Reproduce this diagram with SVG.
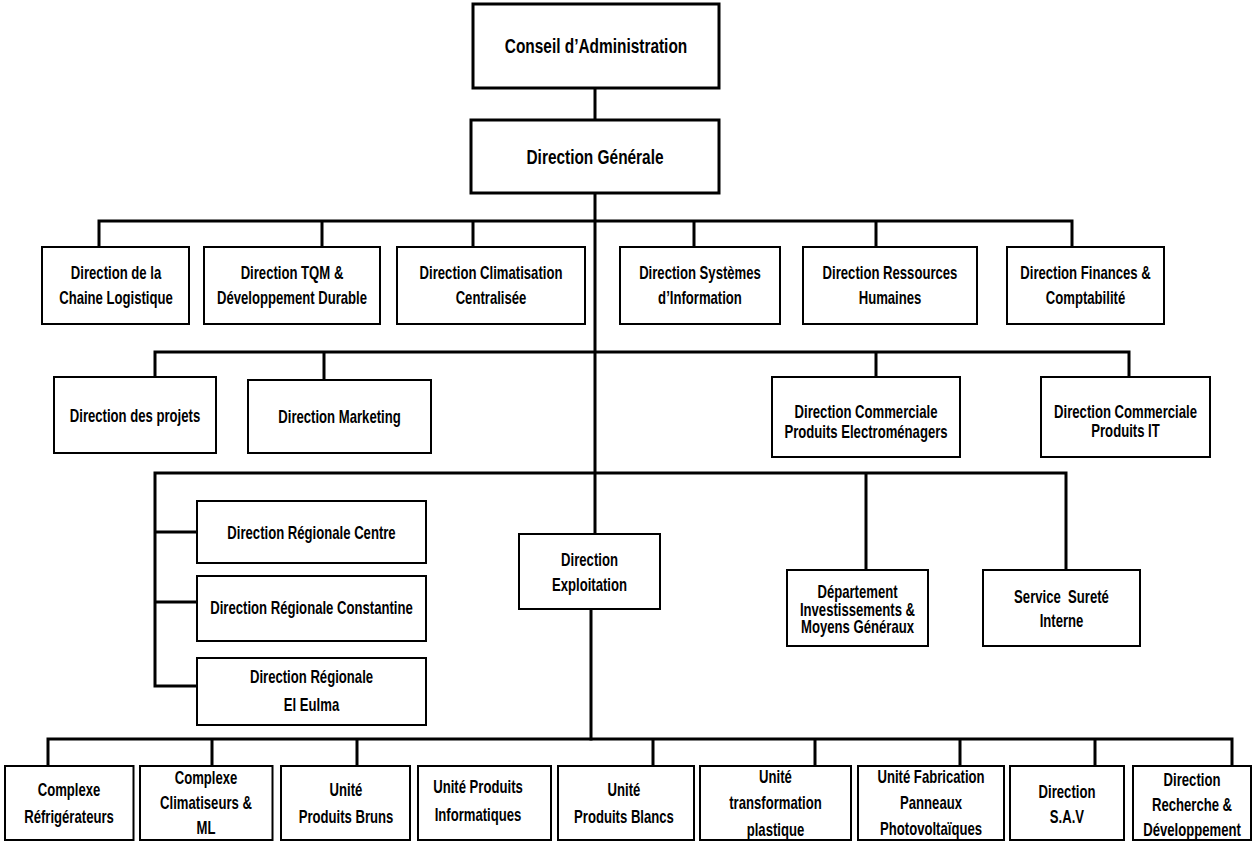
<svg xmlns="http://www.w3.org/2000/svg" width="1259" height="843" viewBox="0 0 1259 843">
<style>
.b{fill:#fff;stroke:#000;stroke-width:2}
.bt{fill:#fff;stroke:#000;stroke-width:3}
.c{fill:none;stroke:#000;stroke-width:3;stroke-linecap:square}
.t{font-family:"Liberation Sans",Arial,sans-serif;font-weight:bold;font-size:17.5px;text-anchor:middle;fill:#000}
.h{font-size:21px}
</style>
<rect width="1259" height="843" fill="#fff"/>
<g id="connectors">
<path class="c" d="M595 88V120M595 193V534M591 609V739"/>
<path class="c" d="M99 247V221H1072V247M322 221V247M473 221V247M694 221V247M876 221V247"/>
<path class="c" d="M155 377V352H1129V377M324 352V380M876 352V377"/>
<path class="c" d="M155 686V473H1066V570M866 473V570M155 532H197M155 602H197M155 686H197"/>
<path class="c" d="M48 766V739H1232V766M212 739V766M357 739V766M653 739V766M815 739V766M960 739V766M1095 739V766"/>
</g>
<g id="conseil"><rect class="bt" x="473" y="4" width="246" height="84"/><text class="t h" transform="translate(596,0) scale(.735,1)"><tspan x="0" y="53">Conseil d’Administration</tspan></text></g>
<g id="dg"><rect class="bt" x="471" y="120" width="248" height="73"/><text class="t h" transform="translate(595,0) scale(.735,1)"><tspan x="0" y="164">Direction Générale</tspan></text></g>

<g id="logistique"><rect class="b" x="42" y="247" width="147" height="77"/><text class="t" transform="translate(116,0) scale(.75,1)"><tspan x="0" y="279.5">Direction de la</tspan><tspan x="0" y="304.5">Chaine Logistique</tspan></text></g>
<g id="tqm"><rect class="b" x="204" y="247" width="176" height="77"/><text class="t" transform="translate(292,0) scale(.75,1)"><tspan x="0" y="279.5">Direction TQM &amp;</tspan><tspan x="0" y="304.5">Développement Durable</tspan></text></g>
<g id="clim"><rect class="b" x="397" y="247" width="188" height="77"/><text class="t" transform="translate(491,0) scale(.75,1)"><tspan x="0" y="279.5">Direction Climatisation</tspan><tspan x="0" y="304.5">Centralisée</tspan></text></g>
<g id="si"><rect class="b" x="620" y="247" width="160" height="77"/><text class="t" transform="translate(700,0) scale(.75,1)"><tspan x="0" y="279.5">Direction Systèmes</tspan><tspan x="0" y="304.5">d’Information</tspan></text></g>
<g id="rh"><rect class="b" x="803" y="247" width="174" height="77"/><text class="t" transform="translate(890,0) scale(.75,1)"><tspan x="0" y="279.5">Direction Ressources</tspan><tspan x="0" y="304.5">Humaines</tspan></text></g>
<g id="finances"><rect class="b" x="1007" y="247" width="157" height="77"/><text class="t" transform="translate(1085.5,0) scale(.75,1)"><tspan x="0" y="279.5">Direction Finances &amp;</tspan><tspan x="0" y="304.5">Comptabilité</tspan></text></g>

<g id="projets"><rect class="b" x="54" y="377" width="162" height="76"/><text class="t" transform="translate(135,0) scale(.75,1)"><tspan x="0" y="422.5">Direction des projets</tspan></text></g>
<g id="marketing"><rect class="b" x="248" y="380" width="183" height="73"/><text class="t" transform="translate(339.5,0) scale(.75,1)"><tspan x="0" y="423.5">Direction Marketing</tspan></text></g>
<g id="com-electro"><rect class="b" x="772" y="377" width="188" height="80"/><text class="t" transform="translate(866,0) scale(.75,1)"><tspan x="0" y="418">Direction Commerciale</tspan><tspan x="0" y="438">Produits Electroménagers</tspan></text></g>
<g id="com-it"><rect class="b" x="1041" y="377" width="169" height="80"/><text class="t" transform="translate(1125.5,0) scale(.75,1)"><tspan x="0" y="418">Direction Commerciale</tspan><tspan x="0" y="437">Produits IT</tspan></text></g>

<g id="reg-centre"><rect class="b" x="197" y="501" width="229" height="62"/><text class="t" transform="translate(311.5,0) scale(.75,1)"><tspan x="0" y="539">Direction Régionale Centre</tspan></text></g>
<g id="reg-constantine"><rect class="b" x="197" y="576" width="229" height="65"/><text class="t" transform="translate(311.5,0) scale(.75,1)"><tspan x="0" y="614.5">Direction Régionale Constantine</tspan></text></g>
<g id="reg-eulma"><rect class="b" x="197" y="658" width="229" height="67"/><text class="t" transform="translate(311.5,0) scale(.75,1)"><tspan x="0" y="683.5">Direction Régionale</tspan><tspan x="0" y="711.5">El Eulma</tspan></text></g>
<g id="exploitation"><rect class="b" x="519" y="534" width="141" height="75"/><text class="t" transform="translate(589.5,0) scale(.75,1)"><tspan x="0" y="566.5">Direction</tspan><tspan x="0" y="591.5">Exploitation</tspan></text></g>
<g id="investissements"><rect class="b" x="787" y="570" width="141" height="76"/><text class="t" transform="translate(857.5,0) scale(.75,1)"><tspan x="0" y="598.5">Département</tspan><tspan x="0" y="616">Investissements &amp;</tspan><tspan x="0" y="633.5">Moyens Généraux</tspan></text></g>
<g id="surete"><rect class="b" x="983" y="570" width="157" height="76"/><text class="t" transform="translate(1061.5,0) scale(.75,1)" xml:space="preserve"><tspan x="0" y="603.5">Service  Sureté</tspan><tspan x="0" y="627.5">Interne</tspan></text></g>

<g id="refrigerateurs"><rect class="b" x="5" y="766" width="128.5" height="74"/><text class="t" transform="translate(69,0) scale(.75,1)"><tspan x="0" y="796.5">Complexe</tspan><tspan x="0" y="823">Réfrigérateurs</tspan></text></g>
<g id="climatiseurs"><rect class="b" x="140" y="766" width="132.5" height="74"/><text class="t" transform="translate(206,0) scale(.75,1)"><tspan x="0" y="784.5">Complexe</tspan><tspan x="0" y="809.5">Climatiseurs &amp;</tspan><tspan x="0" y="834.5">ML</tspan></text></g>
<g id="bruns"><rect class="b" x="281" y="766" width="129" height="74"/><text class="t" transform="translate(346,0) scale(.75,1)"><tspan x="0" y="796.5">Unité</tspan><tspan x="0" y="823">Produits Bruns</tspan></text></g>
<g id="informatiques"><rect class="b" x="418" y="766" width="133" height="74"/><text class="t" transform="translate(478,0) scale(.75,1)"><tspan x="0" y="793">Unité Produits</tspan><tspan x="0" y="821.5">Informatiques</tspan></text></g>
<g id="blancs"><rect class="b" x="558" y="766" width="136" height="74"/><text class="t" transform="translate(624,0) scale(.75,1)"><tspan x="0" y="796.5">Unité</tspan><tspan x="0" y="823">Produits Blancs</tspan></text></g>
<g id="plastique"><rect class="b" x="700" y="766" width="151" height="74"/><text class="t" transform="translate(775.5,0) scale(.75,1)"><tspan x="0" y="783">Unité</tspan><tspan x="0" y="809.5">transformation</tspan><tspan x="0" y="836">plastique</tspan></text></g>
<g id="photovoltaiques"><rect class="b" x="858" y="766" width="146" height="74"/><text class="t" transform="translate(931,0) scale(.75,1)"><tspan x="0" y="783.5">Unité Fabrication</tspan><tspan x="0" y="809.5">Panneaux</tspan><tspan x="0" y="835.5">Photovoltaïques</tspan></text></g>
<g id="sav"><rect class="b" x="1010" y="766" width="114" height="74"/><text class="t" transform="translate(1067,0) scale(.75,1)"><tspan x="0" y="798">Direction</tspan><tspan x="0" y="823">S.A.V</tspan></text></g>
<g id="rd"><rect class="b" x="1133" y="766" width="118" height="74"/><text class="t" transform="translate(1192,0) scale(.75,1)"><tspan x="0" y="786.5">Direction</tspan><tspan x="0" y="811.5">Recherche &amp;</tspan><tspan x="0" y="836.5">Développement</tspan></text></g>
</svg>
